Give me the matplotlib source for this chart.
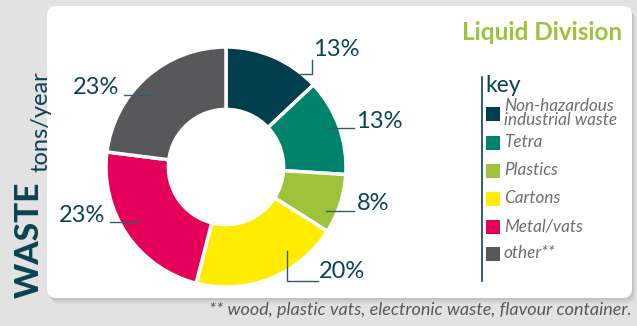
import matplotlib.pyplot as plt
from matplotlib.patches import FancyBboxPatch, Rectangle
import numpy as np

# data
categories = ['Non-hazardous\nindustrial waste', 'Tetra', 'Plastics', 'Cartons', 'Metal/vats', 'other**']
values = [13, 13, 8, 20, 23, 23]
colors = ['#003e4e', '#00836b', '#9dc33b', '#ffec00', '#e5005a', '#58585a']
title = 'Liquid Division'
footnote = '** wood, plastic vats, electronic waste, flavour container.'

W, H = 637, 326
txt = '#0b4353'
plt.rcParams['font.family'] = ['Lato', 'DejaVu Sans']

fig = plt.figure(figsize=(W / 100, H / 100), dpi=100)
fig.patch.set_facecolor('#e2e2e2')
ax = fig.add_axes([0, 0, 1, 1])

# pixel coords, y measured from top -> convert
def py(y):
    return H - y

# card with soft shadow
for i, a in enumerate([0.05, 0.04, 0.03, 0.02]):
    d = 2 + i * 1.5
    ax.add_patch(FancyBboxPatch((47 + d * 0.6, py(298) - d), 585, 292,
                                boxstyle='round,pad=0,rounding_size=9',
                                fc='black', ec='none', alpha=a, zorder=0))
ax.add_patch(FancyBboxPatch((47, py(298)), 585, 292,
                            boxstyle='round,pad=0,rounding_size=9',
                            fc='white', ec='none', zorder=1))

cx, cy, R = 226, py(167), 120
wedges, _ = ax.pie(values, colors=colors, startangle=90, counterclock=False,
                   center=(cx, cy), radius=R,
                   wedgeprops=dict(width=R * 0.52, edgecolor='white', linewidth=2.5))
for w in wedges:
    w.set_zorder(2)

# leader lines and labels (layout only)
leaders = [
    ([300, 312, 312], [74, 74, 60], (313, 50), 'left'),
    ([326, 354], [128, 128], (356, 121), 'left'),
    ([326, 354], [211, 211], (357, 204), 'left'),
    ([287, 287, 318], [251, 281, 281], (319, 272), 'left'),
    ([153, 124], [95, 95], (119, 88), 'right'),
    ([139, 110], [222, 222], (105, 216), 'right'),
]
for v, (xs, ys, (tx, ty), ha) in zip(values, leaders):
    ax.plot(xs, [py(y) for y in ys], color='#2e5e6b', lw=1, zorder=3)
    ax.text(tx, py(ty), f'{v}%', color=txt, fontsize=17, ha=ha, va='center', zorder=3)

ax.text(622, py(33), title, color='#9dc33b', fontsize=17.5, fontweight='bold',
        ha='right', va='center', zorder=3)

# key
ax.plot([482, 482], [py(77), py(281)], color=txt, lw=1.2, zorder=3)
ax.text(485, py(86), 'key', color=txt, fontsize=16.5, ha='left', va='center', zorder=3)
key_y = [114, 143, 171, 199, 227, 254]
for lab, c, y in zip(categories, colors, key_y):
    ax.add_patch(Rectangle((486, py(y) - 7), 14, 14, fc=c, ec='none', zorder=3))
    ax.text(504, py(y) + 1, lab, color='#6e6e6e', fontsize=12.3, fontstyle='italic',
            ha='left', va='center', linespacing=0.85, zorder=3)

# axis title
ax.text(29, py(298), 'WASTE', color=txt, fontsize=24, fontweight='black',
        rotation=90, ha='center', va='bottom', zorder=3)
ax.text(41, py(172), 'tons/year', color=txt, fontsize=17,
        rotation=90, ha='center', va='bottom', zorder=3)

ax.text(632, py(310), footnote, color='#585858', fontsize=13, fontstyle='italic',
        ha='right', va='center', zorder=3)

ax.set_xlim(0, W)
ax.set_ylim(0, H)
ax.set_aspect('auto')
ax.axis('off')
fig.savefig('out.png', dpi=100, facecolor=fig.get_facecolor())
